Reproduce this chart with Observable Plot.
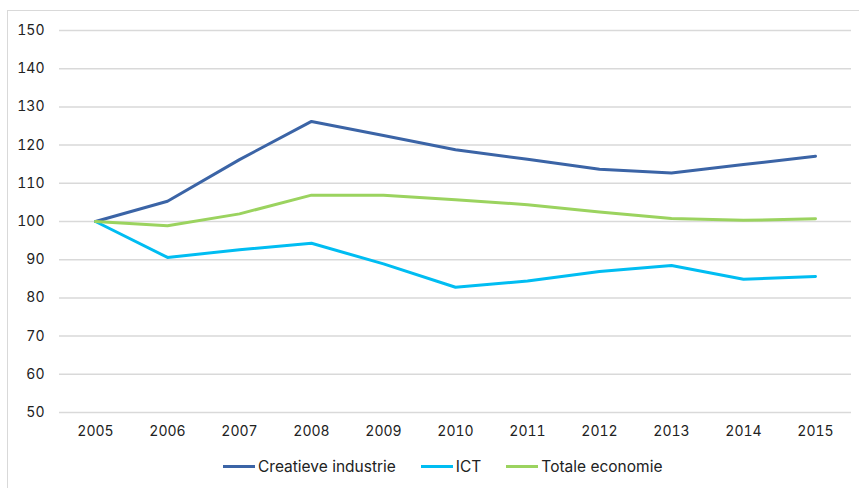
<!DOCTYPE html>
<html>
<head>
<meta charset="utf-8">
<script src="https://cdn.jsdelivr.net/npm/d3@7"></script>
<script src="https://cdn.jsdelivr.net/npm/@observablehq/plot@0.6"></script>
<style>
  body { margin: 0; background: #fff; font-family: Inter, "Noto Sans", sans-serif; }
  #wrap { position: relative; width: 859px; height: 488px; overflow: hidden; }
  #frame { position: absolute; left: 7px; top: 10px; width: 860px; height: 500px; border: 1px solid #d9d9d9; box-sizing: border-box; }
  #chart { position: absolute; left: 0; top: 0; }
  #legend { position: absolute; top: 457px; left: 223px; display: flex; align-items: center; font-size: 15.5px; color: #222; }
  .item { display: flex; align-items: center; margin-right: 25px; }
  .sw { width: 32px; height: 3px; margin-right: 3px; }
</style>
</head>
<body>
<div id="wrap">
  <div id="frame"></div>
  <div id="chart"></div>
  <div id="legend"></div>
</div>
<script>
const years = [2005, 2006, 2007, 2008, 2009, 2010, 2011, 2012, 2013, 2014, 2015];
const seriesNames = ["Creatieve industrie", "ICT", "Totale economie"];
const colors = ["#3b64a6", "#00bdf2", "#9bd35f"];
const creatieve = [100, 105.3, 116.2, 126.2, 122.5, 118.8, 116.3, 113.7, 112.7, 114.9, 117.1];
const ict = [100, 90.6, 92.6, 94.3, 88.9, 82.8, 84.4, 86.9, 88.5, 84.9, 85.6];
const totale = [100, 98.9, 102.0, 106.9, 106.9, 105.7, 104.4, 102.5, 100.8, 100.3, 100.7];
const yTicks = [50, 60, 70, 80, 90, 100, 110, 120, 130, 140, 150];

const allSeries = [creatieve, ict, totale];
const data = [];
allSeries.forEach((vals, i) => vals.forEach((v, j) => data.push({year: years[j], value: v, series: seriesNames[i]})));

const plot = Plot.plot({
  width: 859,
  height: 440,
  marginLeft: 59,
  marginRight: 8,
  marginTop: 30,
  marginBottom: 28,
  style: { fontSize: "14px", fontFamily: "Inter, 'Noto Sans', sans-serif", color: "#222", background: "transparent" },
  x: { domain: [2004.5, 2015.5], ticks: years, tickFormat: d => String(d), tickSize: 0, tickPadding: 14, label: null },
  y: { domain: [50, 150], ticks: yTicks, tickSize: 0, tickPadding: 15, label: null },
  color: { domain: seriesNames, range: colors },
  marks: [
    Plot.ruleY(yTicks, { stroke: "#d9d9d9", strokeWidth: 1.5 }),
    Plot.axisX({ ticks: years, tickFormat: d => String(d), tickSize: 0, tickPadding: 14, label: null, fill: "#222" }),
    Plot.axisY({ ticks: yTicks, tickSize: 0, tickPadding: 15, label: null, fill: "#222" }),
    Plot.line(data, { x: "year", y: "value", z: "series", stroke: "series", strokeWidth: 3, strokeLinejoin: "round" })
  ]
});
document.getElementById("chart").appendChild(plot);

const legend = document.getElementById("legend");
seriesNames.forEach((name, i) => {
  const it = document.createElement("div");
  it.className = "item";
  const sw = document.createElement("div");
  sw.className = "sw";
  sw.style.background = colors[i];
  const tx = document.createElement("span");
  tx.textContent = name;
  it.appendChild(sw); it.appendChild(tx);
  legend.appendChild(it);
});
</script>
</body>
</html>
